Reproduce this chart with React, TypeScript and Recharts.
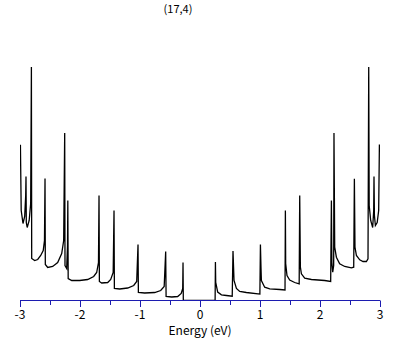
import React from "react";
import { LineChart, Line, XAxis, YAxis } from "recharts";

// energy (eV) and density of states
const energyEv = [
  -2.993, -2.98, -2.95, -2.922, -2.905, -2.9, -2.895, -2.88, -2.847, -2.822, -2.81, -2.805, -2.755, -2.705, -2.655,
  -2.613, -2.592, -2.583, -2.578, -2.538, -2.455, -2.372, -2.305, -2.272, -2.255, -2.25, -2.222, -2.208, -2.203,
  -2.197, -2.138, -2.005, -1.872, -1.772, -1.722, -1.692, -1.683, -1.677, -1.638, -1.538, -1.488, -1.447, -1.433,
  -1.427, -1.338, -1.205, -1.105, -1.055, -1.033, -1.027, -0.922, -0.755, -0.655, -0.597, -0.572, -0.565, -0.472,
  -0.372, -0.313, -0.288, -0.283, -0.278,
  0.252, 0.257, 0.262, 0.295, 0.357, 0.44, 0.537, 0.55, 0.567, 0.607, 0.662, 0.773, 0.967, 0.998, 1.007, 1.017,
  1.023, 1.078, 1.162, 1.328, 1.417, 1.423, 1.428, 1.45, 1.495, 1.578, 1.653, 1.662, 1.673, 1.69, 1.745, 1.857,
  2.078, 2.178, 2.19, 2.198, 2.212, 2.228, 2.233, 2.245, 2.273, 2.328, 2.412, 2.523, 2.562, 2.573, 2.583, 2.607,
  2.662, 2.717, 2.773, 2.8, 2.812, 2.82, 2.845, 2.878, 2.895, 2.9, 2.907, 2.923, 2.953, 2.978, 2.99,
];

const dosValues = [
  7.79, 4.5, 3.85, 4.2, 5.25, 6.2, 3.9, 3.65, 4.0, 4.85, 11.67, 2.1, 2.0, 2.05, 2.25, 2.5, 3.0, 6.1, 1.8, 1.65,
  1.7, 1.9, 2.35, 3.0, 8.37, 1.75, 1.6, 2.75, 5.0, 1.1, 1.0, 1.0, 1.05, 1.2, 1.4, 1.9, 5.25, 0.95, 0.875, 0.9,
  1.05, 1.4, 4.5, 0.6, 0.575, 0.625, 0.75, 0.95, 2.8, 0.4, 0.375, 0.4, 0.5, 0.7, 2.45, 0.2, 0.175, 0.2, 0.35,
  0.6, 1.9, 0,
  0, 1.92, 0.9, 0.42, 0.285, 0.25, 0.215, 2.47, 1.0, 0.6, 0.45, 0.4, 0.335, 0.325, 2.8, 1.6, 1.0, 0.665, 0.585,
  0.55, 0.525, 4.5, 1.85, 1.25, 1.025, 0.9, 0.835, 5.25, 1.665, 1.335, 1.115, 1.05, 1.0, 0.95, 5.0, 1.9, 1.415,
  1.75, 8.37, 2.665, 2.165, 1.835, 1.7, 1.635, 1.665, 6.085, 2.665, 2.25, 2.035, 1.95, 1.95, 2.085, 11.67, 4.75,
  4.0, 3.65, 4.5, 6.2, 4.25, 3.75, 3.9, 4.5, 7.8,
];

const xTicks = [-3, -2.5, -2, -1.5, -1, -0.5, 0, 0.5, 1, 1.5, 2, 2.5, 3];

const data = energyEv.map((e, i) => ({ e, dos: dosValues[i] }));

const FONT = "'Noto Sans CJK JP', 'DejaVu Sans', sans-serif";
const AXIS_BLUE = "#1c1cb0";

function XTick(props: any) {
  const { x, y, payload } = props;
  const v = payload.value;
  const major = Number.isInteger(v);
  const px = Math.round(x) + 0.5;
  return (
    <g>
      <line x1={px} x2={px} y1={y} y2={y + (major ? 6.5 : 4.5)} stroke={AXIS_BLUE} strokeWidth={1} />
      {major && (
        <text x={x} y={y + 18.5} textAnchor="middle" fontSize={12} fontFamily={FONT} fill="#000">
          {String(v)}
        </text>
      )}
    </g>
  );
}

export default function App() {
  return (
    <div style={{ position: "absolute", left: 0, top: 0, width: 409, height: 345, background: "#fff" }}>
      <div
        style={{
          position: "absolute",
          left: 148,
          top: 2,
          width: 60,
          textAlign: "center",
          fontFamily: FONT,
          fontSize: 11,
          lineHeight: "12px",
          color: "#000",
        }}
      >
        (17,4)
      </div>
      <LineChart width={409} height={345} data={data} margin={{ top: 60.5, right: 29, left: 20, bottom: 4.5 }}>
        <XAxis
          dataKey="e"
          type="number"
          domain={[-3, 3]}
          ticks={xTicks}
          interval={0}
          allowDataOverflow
          height={40}
          tickSize={0}
          tickMargin={0}
          tickLine={false}
          axisLine={{ stroke: AXIS_BLUE, strokeWidth: 1 }}
          tick={<XTick />}
          label={{
            value: "Energy (eV)",
            position: "insideBottom",
            offset: 6,
            fontSize: 12,
            fontFamily: FONT,
            fill: "#000",
          }}
        />
        <YAxis hide domain={[0, 12]} allowDataOverflow />
        <Line
          type="linear"
          dataKey="dos"
          stroke="#000"
          strokeWidth={1.3}
          dot={false}
          activeDot={false}
          isAnimationActive={false}
        />
      </LineChart>
    </div>
  );
}
